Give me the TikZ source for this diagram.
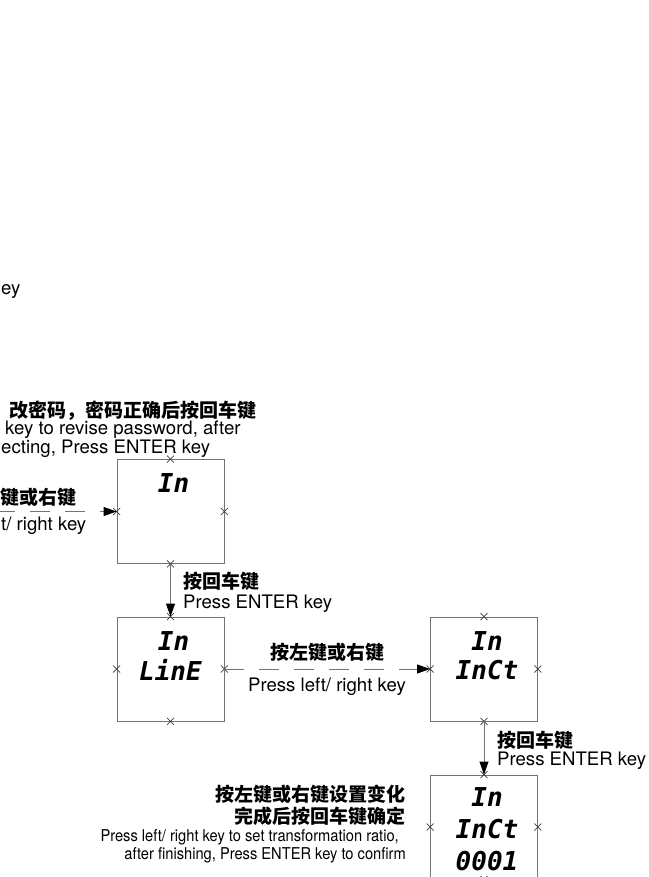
\documentclass[tikz,border=0pt]{standalone}
\usepackage{fontspec}
\setmainfont{TeX Gyre Heros}
\newfontfamily\narrowsans{TeX Gyre Heros}[FakeStretch=0.9]
\newfontfamily\cjk{Noto Sans CJK SC}
\newfontfamily\lcd{DejaVu Sans Mono}
\usetikzlibrary{arrows.meta, positioning}
\colorlet{framegray}{black!55}
\colorlet{crossgray}{black!75}

\begin{document}
\begin{tikzpicture}[x=1pt, y=-1pt, >={Triangle[length=13pt, width=9pt, color=black]},
    panel/.style={draw=framegray, line width=0.9pt, minimum width=107pt, minimum height=104pt, inner sep=0pt},
    seg/.style={font=\lcd\bfseries\itshape\fontsize{26}{26}\selectfont, inner sep=0pt},
    en/.style={font=\fontsize{18.6}{20}\selectfont, inner sep=0pt},
    note/.style={font=\narrowsans\fontsize{16.3}{18}\selectfont, inner sep=0pt},
    zh/.style={font=\cjk\bfseries\fontsize{19}{21}\selectfont, inner sep=0pt},
    flow/.style={draw=framegray, line width=0.9pt},
    keyflow/.style={flow, dash pattern=on 20pt off 15pt},
    crossmark/.style={draw=crossgray, line width=0.7pt}]

    \useasboundingbox (0,0) rectangle (648,877);
    \clip (0,0) rectangle (648,877);

    % Display panels
    \node[panel] (p1) at (170.5, 511.5) {};
    \node[panel] (p2) at (170.5, 669) {};
    \node[panel] (p3) at (484, 669) {};
    \node[panel] (p4) at (484, 827) {};

    % Crosses on the panel edges
    \foreach \p in {p1, p2, p3, p4}
      \foreach \a in {north, south, east, west}
        \draw[crossmark] (\p.\a) +(-3.5,-3.5) -- +(3.5,3.5) +(-3.5,3.5) -- +(3.5,-3.5);

    % Panel readings
    \node[seg] (p1a) at ([xshift=3pt, yshift=-24pt]p1.north) {In};
    \node[seg] (p2a) at ([xshift=3pt, yshift=-24pt]p2.north) {In};
    \node[seg] (p2b) at ([xshift=0pt, yshift=-53pt]p2.north) {LinE};
    \node[seg] (p3a) at ([xshift=3pt, yshift=-24pt]p3.north) {In};
    \node[seg] (p3b) at ([xshift=3pt, yshift=-53pt]p3.north) {InCt};
    \node[seg] (p4a) at ([xshift=3pt, yshift=-22pt]p4.north) {In};
    \node[seg] (p4b) at ([xshift=3pt, yshift=-54pt]p4.north) {InCt};
    \node[seg] (p4c) at ([xshift=3pt, yshift=-86pt]p4.north) {0001};

    % Entry from the left & cut labels
    \coordinate (in) at (-5, 511.5);
    \draw[keyflow, ->] (in) -- (p1.west);
    \node[en, anchor=base west] (t0) at (1, 294) {ey};
    \node[zh, anchor=east] (t1) at (257, 410.5) {改密码，密码正确后按回车键};
    \node[en, anchor=base west] (t2) at (5, 434) {key to revise password, after};
    \node[en, anchor=base west] (t3) at (1, 453) {ecting, Press ENTER key};
    \node[zh, anchor=west] (t4) at (0.5, 497) {键或右键};
    \node[en, anchor=base west] (t5) at (1, 530) {t/ right key};

    % Panel 1 to panel 2
    \draw[flow, ->] (p1.south) -- (p2.north);
    \node[zh, anchor=west] (k1) at (183, 581) {按回车键};
    \node[en, anchor=base west] (k1e) at (183, 608) {Press ENTER key};

    % Panel 2 to panel 3
    \draw[keyflow, ->] (p2.east) -- (p3.west);
    \node[zh] (k2) at (327, 652) {按左键或右键};
    \node[en, anchor=base] (k2e) at (327, 691) {Press left/ right key};

    % Panel 3 to panel 4
    \draw[flow, ->] (p3.south) -- (p4.north);
    \node[zh, anchor=west] (k3) at (497, 740) {按回车键};
    \node[en, anchor=base west] (k3e) at (497, 765) {Press ENTER key};

    % Setting note
    \node[zh, anchor=east] (n1) at (406, 794) {按左键或右键设置变化};
    \node[zh, anchor=east] (n2) at (406, 816) {完成后按回车键确定};
    \node[note, anchor=base east] (n3) at (399, 841) {Press left/ right key to set transformation ratio,};
    \node[note, anchor=base east] (n4) at (406, 859) {after finishing, Press ENTER key to confirm};
\end{tikzpicture}
\end{document}
